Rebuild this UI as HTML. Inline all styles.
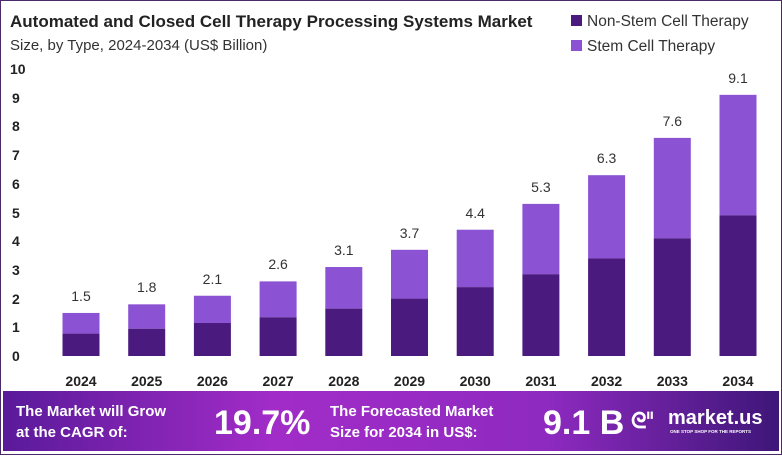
<!DOCTYPE html>
<html><head><meta charset="utf-8"><style>
body{margin:0;width:782px;height:455px;overflow:hidden;background:#fff;font-family:"Liberation Sans",sans-serif}
</style></head><body>
<svg width="782" height="455" xmlns="http://www.w3.org/2000/svg" font-family="Liberation Sans, sans-serif">
<defs><linearGradient id="g" x1="0" x2="1"><stop offset="0" stop-color="#5a1a9a"/><stop offset="0.35" stop-color="#a22cc8"/><stop offset="0.7" stop-color="#8e2ac0"/><stop offset="1" stop-color="#3e1678"/></linearGradient></defs>
<rect x="0.5" y="0.5" width="781" height="454" fill="#fff" stroke="#4a2a6a"/>
<text x="10" y="27" font-size="17" font-weight="bold" fill="#222">Automated and Closed Cell Therapy Processing Systems Market</text>
<text x="10" y="50" font-size="15" fill="#333">Size, by Type, 2024-2034 (US$ Billion)</text>
<rect x="571" y="15" width="11" height="11" fill="#4b1a7e"/><text x="587" y="26" font-size="15.5" fill="#333">Non-Stem Cell Therapy</text>
<rect x="571" y="40" width="11" height="11" fill="#8c52d4"/><text x="587" y="51" font-size="15.5" fill="#333">Stem Cell Therapy</text>
<g font-size="14" font-weight="bold" fill="#222">
<text x="10" y="74">10</text><text x="12" y="103">9</text><text x="12" y="131">8</text><text x="12" y="160">7</text><text x="12" y="189">6</text><text x="12" y="218">5</text><text x="12" y="246">4</text><text x="12" y="275">3</text><text x="12" y="304">2</text><text x="12" y="332">1</text><text x="12" y="361">0</text>
</g>
<g fill="#8c52d4">
<rect x="62.5" y="312.95" width="37" height="20.66"/>
<rect x="128.2" y="304.34" width="37" height="24.39"/>
<rect x="193.9" y="295.73" width="37" height="27.27"/>
<rect x="259.6" y="281.38" width="37" height="35.87"/>
<rect x="325.3" y="267.03" width="37" height="41.61"/>
<rect x="391" y="249.81" width="37" height="48.79"/>
<rect x="456.7" y="229.72" width="37" height="57.4"/>
<rect x="522.4" y="203.89" width="37" height="70.31"/>
<rect x="588.1" y="175.19" width="37" height="83.23"/>
<rect x="653.8" y="137.88" width="37" height="100.45"/>
<rect x="719.5" y="94.83" width="37" height="120.54"/>
</g>
<g fill="#4b1a7e">
<rect x="62.5" y="333.61" width="37" height="22.39"/>
<rect x="128.2" y="328.73" width="37" height="27.27"/>
<rect x="193.9" y="323" width="37" height="33"/>
<rect x="259.6" y="317.25" width="37" height="38.75"/>
<rect x="325.3" y="308.64" width="37" height="47.36"/>
<rect x="391" y="298.6" width="37" height="57.4"/>
<rect x="456.7" y="287.12" width="37" height="68.88"/>
<rect x="522.4" y="274.2" width="37" height="81.8"/>
<rect x="588.1" y="258.42" width="37" height="97.58"/>
<rect x="653.8" y="238.33" width="37" height="117.67"/>
<rect x="719.5" y="215.37" width="37" height="140.63"/>
</g>
<g font-size="14" fill="#333" text-anchor="middle">
<text x="81" y="301">1.5</text><text x="146.7" y="292">1.8</text><text x="212.4" y="284">2.1</text><text x="278.1" y="269">2.6</text><text x="343.8" y="255">3.1</text><text x="409.5" y="238">3.7</text><text x="475.2" y="218">4.4</text><text x="540.9" y="192">5.3</text><text x="606.6" y="163">6.3</text><text x="672.3" y="126">7.6</text><text x="738" y="83">9.1</text>
</g>
<g font-size="14" font-weight="bold" fill="#222" text-anchor="middle">
<text x="81" y="386">2024</text><text x="146.7" y="386">2025</text><text x="212.4" y="386">2026</text><text x="278.1" y="386">2027</text><text x="343.8" y="386">2028</text><text x="409.5" y="386">2029</text><text x="475.2" y="386">2030</text><text x="540.9" y="386">2031</text><text x="606.6" y="386">2032</text><text x="672.3" y="386">2033</text><text x="738" y="386">2034</text>
</g>
<rect x="3" y="391" width="776" height="60" fill="url(#g)"/>
<g fill="#fff" font-weight="bold">
<text x="16" y="416" font-size="15">The Market will Grow</text>
<text x="16" y="437" font-size="15">at the CAGR of:</text>
<text x="214" y="434" font-size="34">19.7%</text>
<text x="330" y="416" font-size="15">The Forecasted Market</text>
<text x="330" y="437" font-size="15">Size for 2034 in US$:</text>
<text x="543" y="434" font-size="34">9.1 B</text>
<text x="668" y="424" font-size="20">market.us</text>
<text x="670" y="433" font-size="4.5">ONE STOP SHOP FOR THE REPORTS</text>
<text x="631" y="428" font-size="22">ᘓᑊᑊ</text>
</g>
</svg>
</body></html>
